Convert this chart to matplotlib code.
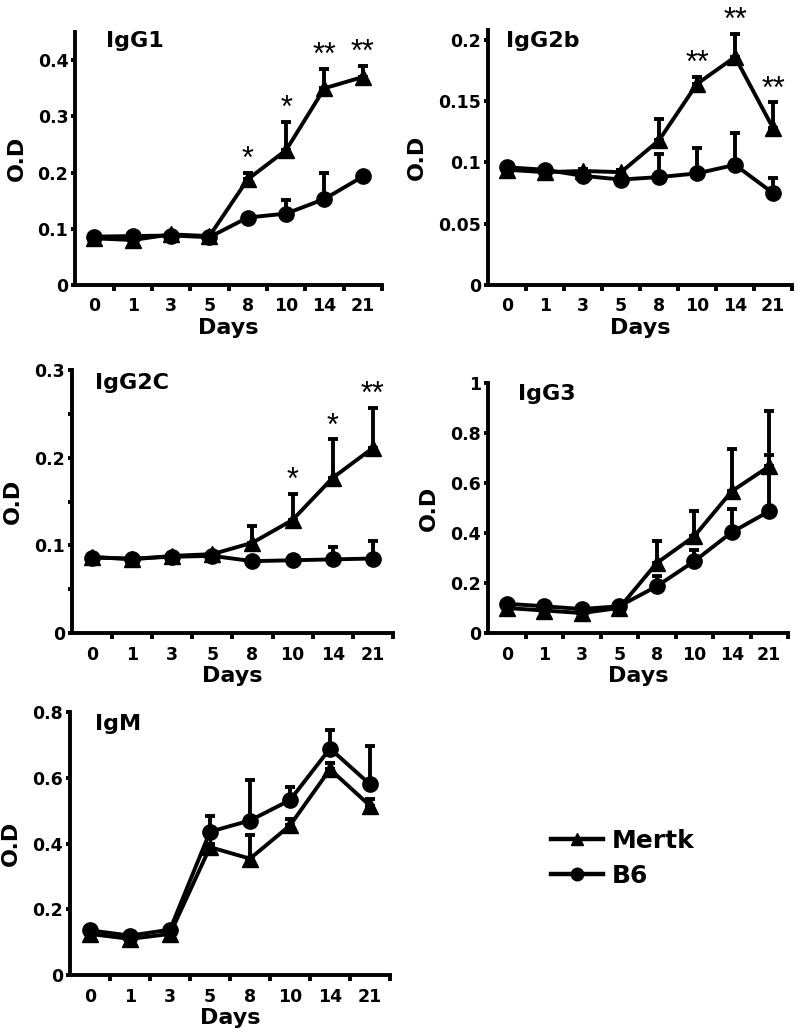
import matplotlib
matplotlib.use("Agg")
import matplotlib.pyplot as plt
from matplotlib.lines import Line2D
from matplotlib.ticker import FixedLocator

plt.rcParams["font.family"] = ["DejaVu Sans"]
plt.rcParams["font.weight"] = "bold"

days = ["0", "1", "3", "5", "8", "10", "14", "21"]

# ── data (upper error only) ──────────────────────────────────────────────────

igg1_mertk = [0.083, 0.080, 0.090, 0.087, 0.188, 0.240, 0.350, 0.370]
igg1_mertk_err = [0.005, 0.005, 0.004, 0.004, 0.012, 0.050, 0.034, 0.020]
igg1_b6 = [0.086, 0.087, 0.088, 0.085, 0.120, 0.127, 0.153, 0.193]
igg1_b6_err = [0.004, 0.004, 0.004, 0.004, 0.006, 0.024, 0.046, 0.004]
igg1_stars = ["", "", "", "", "*", "*", "**", "**"]

igg2b_mertk = [0.094, 0.092, 0.093, 0.092, 0.118, 0.164, 0.186, 0.128]
igg2b_mertk_err = [0.002, 0.002, 0.002, 0.002, 0.017, 0.006, 0.019, 0.021]
igg2b_b6 = [0.096, 0.094, 0.089, 0.086, 0.088, 0.091, 0.098, 0.075]
igg2b_b6_err = [0.002, 0.002, 0.002, 0.002, 0.019, 0.021, 0.026, 0.012]
igg2b_stars = ["", "", "", "", "", "**", "**", "**"]

igg2c_mertk = [0.087, 0.084, 0.088, 0.090, 0.103, 0.129, 0.177, 0.211]
igg2c_mertk_err = [0.003, 0.003, 0.003, 0.003, 0.019, 0.030, 0.044, 0.046]
igg2c_b6 = [0.086, 0.085, 0.087, 0.088, 0.082, 0.083, 0.084, 0.085]
igg2c_b6_err = [0.003, 0.003, 0.004, 0.003, 0.003, 0.004, 0.014, 0.020]
igg2c_stars = ["", "", "", "", "", "*", "*", "**"]

igg3_mertk = [0.100, 0.090, 0.080, 0.100, 0.280, 0.387, 0.567, 0.667]
igg3_mertk_err = [0.010, 0.010, 0.010, 0.010, 0.087, 0.103, 0.170, 0.222]
igg3_b6 = [0.117, 0.107, 0.096, 0.107, 0.187, 0.287, 0.403, 0.487]
igg3_b6_err = [0.010, 0.010, 0.010, 0.010, 0.043, 0.045, 0.093, 0.226]

igm_mertk = [0.125, 0.110, 0.125, 0.389, 0.354, 0.455, 0.626, 0.515]
igm_mertk_err = [0.010, 0.010, 0.010, 0.010, 0.073, 0.020, 0.020, 0.020]
igm_b6 = [0.136, 0.120, 0.138, 0.436, 0.470, 0.532, 0.689, 0.580]
igm_b6_err = [0.010, 0.010, 0.010, 0.049, 0.123, 0.039, 0.055, 0.117]

LW = 2.8
MS = 11


def panel(rect, title, title_pos, mertk, mertk_err, b6, b6_err, stars,
          ymax, yticks, minor=None):
    ax = fig.add_axes(rect)
    x = list(range(len(days)))
    for vals, err, mk in ((b6, b6_err, "o"), (mertk, mertk_err, "^")):
        ax.errorbar(x, vals, yerr=[[0] * len(err), err], color="black",
                    marker=mk, markersize=MS, linewidth=LW, elinewidth=LW,
                    capsize=3.8, capthick=LW, zorder=3, clip_on=False)
    if stars:
        for xi, v, e, s in zip(x, mertk, mertk_err, stars):
            if s:
                ax.annotate(s, (xi, v + e), xytext=(0, 3.5),
                            textcoords="offset points", ha="center",
                            va="baseline", fontsize=22, fontweight="normal",
                            family="Liberation Sans", annotation_clip=False)
    ax.set_xlim(-0.5, len(days) - 0.5)
    ax.set_ylim(0, ymax)
    ax.set_xticks(x)
    ax.set_xticklabels(days)
    ax.xaxis.set_minor_locator(FixedLocator([i + 0.5 for i in x]))
    ax.tick_params(axis="x", which="major", length=0, pad=9, labelsize=12.5)
    ax.tick_params(axis="x", which="minor", length=4, width=LW,
                   direction="out")
    ax.set_yticks(yticks)
    ax.set_yticklabels([("%g" % t) for t in yticks])
    if minor:
        ax.yaxis.set_minor_locator(FixedLocator(minor))
    ax.tick_params(axis="y", which="both", length=3, width=LW,
                   direction="out", pad=2, labelsize=12.5)
    for side in ("top", "right"):
        ax.spines[side].set_visible(False)
    for side in ("left", "bottom"):
        ax.spines[side].set_linewidth(LW)
    ax.set_xlabel("Days", fontsize=16, fontweight="bold", labelpad=2)
    ax.set_ylabel("O.D", fontsize=16, fontweight="bold", labelpad=8)
    ax.text(title_pos[0], title_pos[1], title, transform=ax.transAxes,
            fontsize=16, fontweight="bold", va="center", ha="left")
    return ax


fig = plt.figure(figsize=(8.0, 10.34), dpi=100)

panel([0.094, 0.7244, 0.3835, 0.2446], "IgG1", (0.10, 0.965),
      igg1_mertk, igg1_mertk_err, igg1_b6, igg1_b6_err, igg1_stars,
      0.45, [0, 0.1, 0.2, 0.3, 0.4])
panel([0.61, 0.7244, 0.38, 0.2466], "IgG2b", (0.06, 0.955),
      igg2b_mertk, igg2b_mertk_err, igg2b_b6, igg2b_b6_err, igg2b_stars,
      0.208, [0, 0.05, 0.1, 0.15, 0.2])
panel([0.09, 0.3878, 0.401, 0.2543], "IgG2C", (0.072, 0.95),
      igg2c_mertk, igg2c_mertk_err, igg2c_b6, igg2c_b6_err, igg2c_stars,
      0.3, [0, 0.1, 0.2, 0.3], minor=[0.05, 0.15, 0.25])
panel([0.61, 0.3878, 0.375, 0.2418], "IgG3", (0.10, 0.955),
      igg3_mertk, igg3_mertk_err, igg3_b6, igg3_b6_err, None,
      1.0, [0, 0.2, 0.4, 0.6, 0.8, 1.0])
panel([0.0875, 0.057, 0.4, 0.2544], "IgM", (0.078, 0.955),
      igm_mertk, igm_mertk_err, igm_b6, igm_b6_err, None,
      0.8, [0, 0.2, 0.4, 0.6, 0.8])

handles = [
    Line2D([], [], color="black", marker="^", markersize=9, linewidth=LW + 0.4),
    Line2D([], [], color="black", marker="o", markersize=9, linewidth=LW + 0.4),
]
fig.legend(handles, ["Mertk", "B6"], loc="center left",
           bbox_to_anchor=(0.6725, 0.170), frameon=False, borderpad=0,
           handlelength=2.1, handletextpad=0.35, labelspacing=0.45,
           prop={"size": 18, "weight": "bold"})

fig.savefig("out.png", dpi=100, facecolor="white")
